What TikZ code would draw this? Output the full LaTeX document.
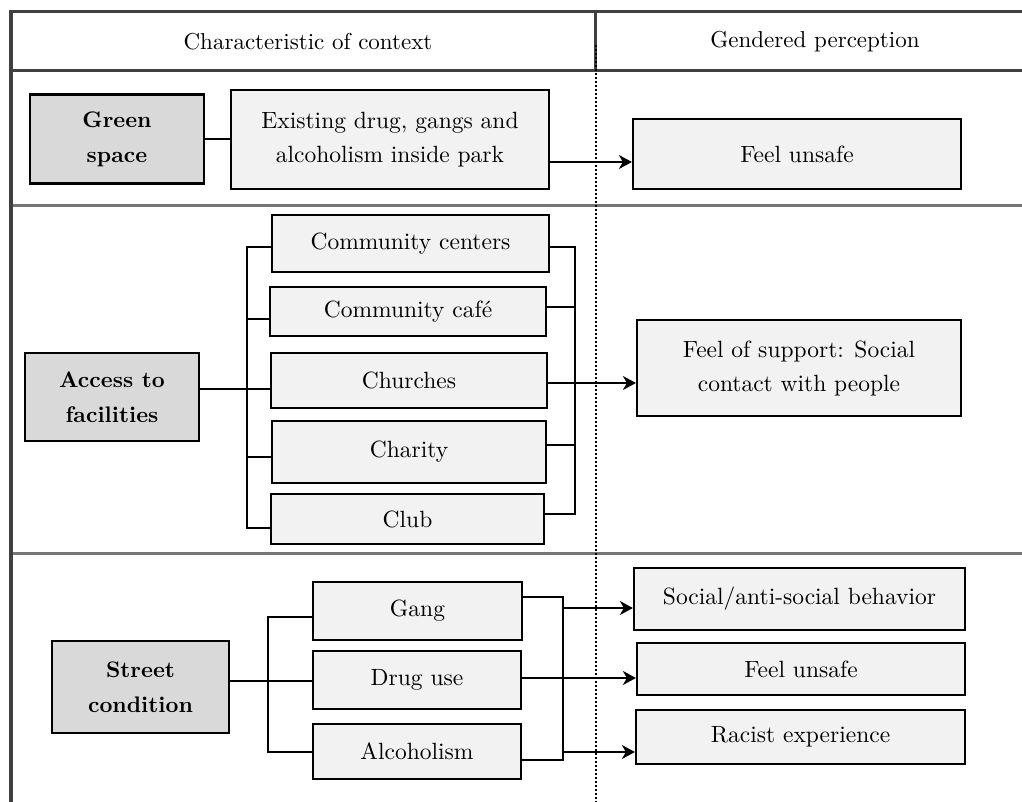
\documentclass[tikz,border=0pt]{standalone}
\usepackage{fontspec}
\setmainfont{lmroman10-regular}[Extension=.otf, BoldFont=lmroman10-bold]
\usetikzlibrary{arrows.meta}

\definecolor{frame}{HTML}{404040}
\definecolor{rule}{HTML}{767676}
\definecolor{darkfill}{HTML}{D9D9D9}
\definecolor{lightfill}{HTML}{F2F2F2}

\tikzset{
  box/.style={draw=black, line width=2.2pt, inner sep=0pt, align=center,
    font=\fontsize{23.5}{34}\selectfont},
  catbox/.style={box, fill=darkfill, font=\fontsize{22.5}{35}\selectfont\bfseries},
  itembox/.style={box, fill=lightfill},
  conn/.style={draw=black, line width=2pt},
  arr/.style={conn, -{Stealth[length=13pt,width=14pt,inset=4pt]}},
  headtext/.style={inner sep=0pt, font=\fontsize{23}{30}\selectfont},
}

\begin{document}
\begin{tikzpicture}[x=1pt,y=-1pt]
\useasboundingbox (0,0) rectangle (1022,802);

% table frame and header
\draw[frame, line width=3pt] (11,12) -- (1022,12);
\draw[frame, line width=3pt] (11,71) -- (1022,71);
\draw[frame, line width=3pt] (595,12) -- (595,71);
\draw[rule, line width=3pt] (11,206) -- (1022,206);
\draw[rule, line width=3pt] (11,553) -- (1022,553);
\draw[frame, line width=4pt] (11,10.5) -- (11,802);
\draw[black, line width=2pt, dash pattern=on 2pt off 2pt] (596,45) -- (596,802);

\node[headtext] (h1) at (308,42) {Characteristic of context};
\node[headtext] (h2) at (815,42) {Gendered perception};

% green space
\node[catbox, minimum width=174pt, minimum height=89pt] (gs) at (117,139) {Green\\space};
\node[itembox, minimum width=318pt, minimum height=99pt] (ex) at (390,139.5) {Existing drug, gangs and\\alcoholism inside park};
\node[itembox, minimum width=328pt, minimum height=70pt] (fu1) at (797,154) {Feel unsafe};

\draw[conn] (gs.east) -- (gs.east -| ex.west);
\draw[arr] ([yshift=-22.5pt]ex.east) coordinate (p1) -- (p1 -| fu1.west);

% access to facilities
\node[catbox, minimum width=174pt, minimum height=88pt] (ac) at (112,397) {Access to\\facilities};
\node[itembox, minimum width=277pt, minimum height=57pt] (cc) at (410.5,243.5) {Community centers};
\node[itembox, minimum width=276pt, minimum height=49pt] (caf) at (408,311.5) {Community café};
\node[itembox, minimum width=276pt, minimum height=55pt] (ch) at (409,380.5) {Churches};
\node[itembox, minimum width=274pt, minimum height=62pt] (cha) at (409,452) {Charity};
\node[itembox, minimum width=273pt, minimum height=50pt] (club) at (407.5,519) {Club};
\node[itembox, minimum width=324pt, minimum height=96pt] (fs) at (799,368) {Feel of support: Social\\contact with people};

\coordinate (aL) at (247,389);
\coordinate (aR) at (575,383);

\draw[conn] ([yshift=-3.5pt]cc.west) -| (aL);
\draw[conn] ([yshift=-9pt]club.west) -| (aL);
\draw[conn] ([yshift=-7.5pt]caf.west) coordinate (p2) -- (p2 -| aL);
\draw[conn] ([yshift=-5pt]cha.west) coordinate (p3) -- (p3 -| aL);
\draw[conn] ([yshift=8pt]ac.east) -- ([yshift=-8.5pt]ch.west);

\draw[conn] ([yshift=-3.5pt]cc.east) -| (aR);
\draw[conn] ([yshift=5pt]club.east) -| (aR);
\draw[conn] ([yshift=4.5pt]caf.east) coordinate (p4) -- (p4 -| aR);
\draw[conn] ([yshift=7pt]cha.east) coordinate (p5) -- (p5 -| aR);
\draw[arr] ([yshift=-2.5pt]ch.east) coordinate (p6) -- (p6 -| fs.west);

% street condition
\node[catbox, minimum width=177pt, minimum height=92pt] (sc) at (140.5,687) {Street\\condition};
\node[itembox, minimum width=209pt, minimum height=58pt] (gang) at (417.5,611) {Gang};
\node[itembox, minimum width=208pt, minimum height=58pt] (drug) at (417,680) {Drug use};
\node[itembox, minimum width=208pt, minimum height=55pt] (alc) at (417,751.5) {Alcoholism};
\node[itembox, minimum width=331pt, minimum height=62pt] (soc) at (799.5,599) {Social/anti-social behavior};
\node[itembox, minimum width=328pt, minimum height=52pt] (fu2) at (801,669) {Feel unsafe};
\node[itembox, minimum width=329pt, minimum height=54pt] (rac) at (800.5,737) {Racist experience};

\coordinate (sL) at (268,681);
\coordinate (sR) at (563,678);

\draw[conn] ([yshift=-6pt]gang.west) -| (sL);
\draw[conn] ([yshift=-0.5pt]alc.west) -| (sL);
\draw[conn] ([yshift=6pt]sc.east) -- ([yshift=-1pt]drug.west);

\draw[conn] ([yshift=14pt]gang.east) -| (sR);
\draw[conn] ([yshift=-8.5pt]alc.east) -| (sR);
\draw[arr] ([yshift=-9pt]soc.west -| sR) -- ([yshift=-9pt]soc.west);
\draw[arr] ([yshift=2pt]drug.east) coordinate (p7) -- (p7 -| fu2.west);
\draw[arr] ([yshift=-15pt]rac.west -| sR) -- ([yshift=-15pt]rac.west);
\end{tikzpicture}
\end{document}
